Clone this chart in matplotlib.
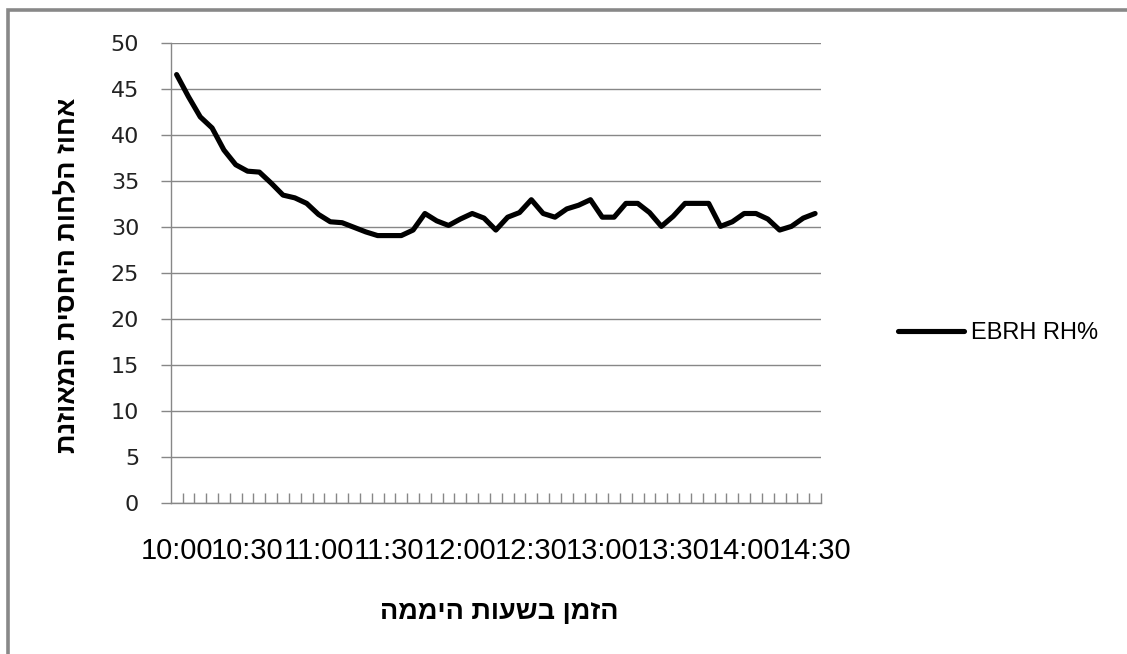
import matplotlib
matplotlib.use("Agg")
import matplotlib.pyplot as plt
from matplotlib.lines import Line2D
from matplotlib.ticker import FixedLocator, MultipleLocator

# Sampling times, every five minutes from 10:00 to 14:30
times = ["10:00", "10:05", "10:10", "10:15", "10:20", "10:25",
         "10:30", "10:35", "10:40", "10:45", "10:50", "10:55",
         "11:00", "11:05", "11:10", "11:15", "11:20", "11:25",
         "11:30", "11:35", "11:40", "11:45", "11:50", "11:55",
         "12:00", "12:05", "12:10", "12:15", "12:20", "12:25",
         "12:30", "12:35", "12:40", "12:45", "12:50", "12:55",
         "13:00", "13:05", "13:10", "13:15", "13:20", "13:25",
         "13:30", "13:35", "13:40", "13:45", "13:50", "13:55",
         "14:00", "14:05", "14:10", "14:15", "14:20", "14:25",
         "14:30"]

# Equilibrium relative humidity (%)
rh_values = [46.6, 44.2, 42.0, 40.8, 38.4, 36.8,
             36.1, 36.0, 34.8, 33.5, 33.2, 32.6,
             31.4, 30.6, 30.5, 30.0, 29.5, 29.1,
             29.1, 29.1, 29.7, 31.5, 30.7, 30.2,
             30.9, 31.5, 31.0, 29.7, 31.1, 31.6,
             33.0, 31.5, 31.1, 32.0, 32.4, 33.0,
             31.1, 31.1, 32.6, 32.6, 31.6, 30.1,
             31.2, 32.6, 32.6, 32.6, 30.1, 30.6,
             31.5, 31.5, 30.9, 29.7, 30.1, 31.0,
             31.5]

series_name = "EBRH RH%"
y_title = "אחוז הלחות היחסית המאוזנת"
x_title = "הזמן בשעות היממה"
label_every = 6

W, H = 1127, 654
GRAY = "#878787"

fig = plt.figure(figsize=(W / 100, H / 100), dpi=100)
ax = fig.add_axes([170.7 / W, 1 - 503.3 / H, (821 - 170.7) / W, (503.3 - 43.3) / H])

x = list(range(len(times)))
line, = ax.plot(x, rh_values, color="black", lw=3.7, solid_joinstyle="round",
                solid_capstyle="round", label=series_name, zorder=3)

ax.set_xlim(-0.5, len(times) - 0.5)
ax.set_ylim(0, 50)

# Value axis
ax.yaxis.set_major_locator(MultipleLocator(5))
ax.grid(axis="y", color=GRAY, lw=1.0)
ax.set_axisbelow(True)
ax.tick_params(axis="y", which="major", direction="out", length=7.2, width=1.0,
               color=GRAY, pad=15.5, labelsize=16, labelcolor="#222222")
for t in ax.get_yticklabels():
    t.set_fontfamily("DejaVu Sans")

# Category axis: labels every half hour, tick marks between categories
lab_pos = x[::label_every]
ax.xaxis.set_major_locator(FixedLocator(lab_pos))
ax.set_xticklabels([times[i] for i in lab_pos], fontfamily="Liberation Sans",
                   fontsize=21, color="black")
ax.xaxis.set_minor_locator(FixedLocator([i + 0.5 for i in x]))
ax.tick_params(axis="x", which="major", length=0, pad=24)
ax.tick_params(axis="x", which="minor", direction="in", length=7.2, width=1.0,
               color=GRAY)

for side in ("top", "right"):
    ax.spines[side].set_visible(False)
for side in ("left", "bottom"):
    ax.spines[side].set_color(GRAY)
    ax.spines[side].set_linewidth(1.0)

# Hebrew titles (characters reversed for right-to-left display)
fig.text(68 / W, 1 - 275 / H, y_title[::-1], rotation=90, ha="center", va="center",
         fontfamily="Liberation Sans", fontweight="bold", fontsize=19.5)
fig.text(499 / W, 1 - 612 / H, x_title[::-1], ha="center", va="center",
         fontfamily="Liberation Sans", fontweight="bold", fontsize=19.5)

# Legend
fig.legend(handles=[line], loc="center left", bbox_to_anchor=(898 / W, 1 - 333 / H),
           frameon=False, borderpad=0, borderaxespad=0, handlelength=2.8,
           handletextpad=0.3, prop={"family": "Liberation Sans", "size": 17})

# Chart frame: left and top edges (the rest lies outside the image)
fx, fy = 8 / W, 1 - 9.5 / H
fig.add_artist(Line2D([fx, fx, 1.05], [-0.05, fy, fy], transform=fig.transFigure,
                      color="#888888", lw=2.6, solid_joinstyle="miter"))

fig.savefig("out.png", dpi=100)
